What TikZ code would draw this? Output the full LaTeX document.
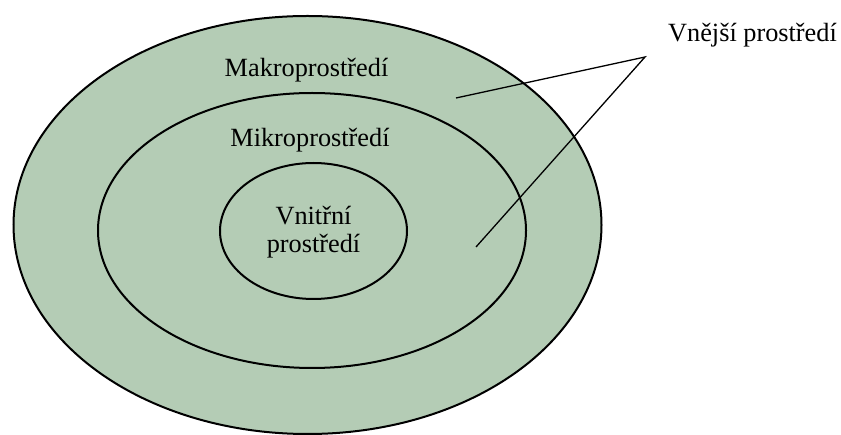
\documentclass[tikz,border=0pt]{standalone}
\usepackage{fontspec}
\setmainfont{Liberation Serif}
\definecolor{envfill}{RGB}{180,204,181}
\begin{document}
\begin{tikzpicture}[x=1pt,y=-1pt,
  ring/.style={draw=black,line width=2pt,fill=envfill},
  lbl/.style={inner sep=0pt,anchor=base,font=\fontsize{26.3}{28}\selectfont},
  pointer/.style={draw=black,line width=1.3pt}]
\useasboundingbox (0,0) rectangle (841,435);
\draw[ring] (307.5,225) ellipse [x radius=294,y radius=209];
\draw[ring] (312,230.5) ellipse [x radius=214,y radius=137.5];
\draw[ring] (313.5,231) ellipse [x radius=93.5,y radius=68];
\node[lbl] (makro) at (306.5,77) {Makroprostředí};
\node[lbl] (mikro) at (310,147) {Mikroprostředí};
\node[lbl,align=center] (vnitrni) at (313.5,253) {Vnitřní\\prostředí};
\node[lbl] (vnejsi) at (752.5,42) {Vnější prostředí};
\coordinate (apex) at (645,57);
\coordinate (inmakro) at (456,98);
\coordinate (inmikro) at (476,247);
\draw[pointer] (inmakro) -- (apex) -- (inmikro);
\end{tikzpicture}
\end{document}
